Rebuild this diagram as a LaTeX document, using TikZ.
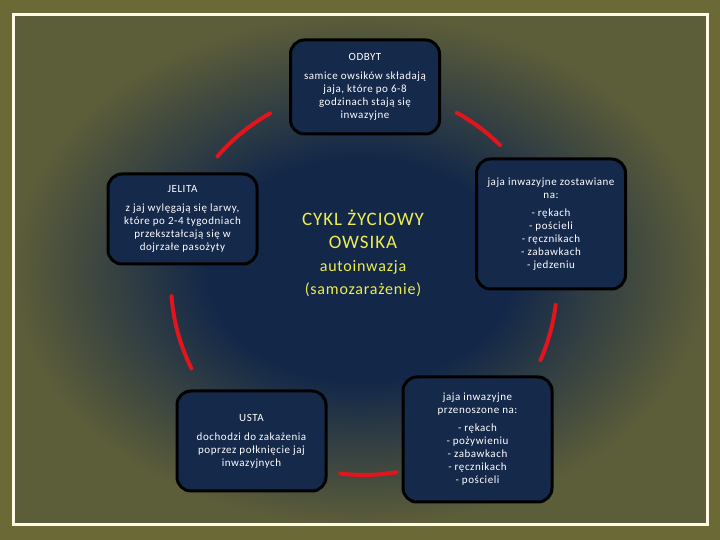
\documentclass[tikz,border=0pt]{standalone}
\usepackage{fontspec}
\setmainfont{Carlito}[LetterSpace=5]
\usepackage{tikz}
\usetikzlibrary{positioning}
\definecolor{Olive}{HTML}{6B6935}
\definecolor{OliveEdge}{HTML}{5C5D39}
\definecolor{Navy}{HTML}{132849}
\definecolor{BoxFill}{HTML}{15294B}
\definecolor{Frame}{HTML}{FFF9E6}
\definecolor{Cycle}{HTML}{E3141B}
\definecolor{Title}{HTML}{EDED4F}
\pgfdeclareradialshading{bgshade}{\pgfpoint{0bp}{0bp}}{color(0bp)=(Navy); color(11bp)=(Navy); color(25bp)=(OliveEdge); color(50bp)=(OliveEdge)}

\begin{document}
\begin{tikzpicture}[x=1pt,y=1pt,font=\fontsize{11}{13}\selectfont]
  \tikzstyle{stage}=[draw=black,line width=3pt,rounded corners=14pt,fill=BoxFill,text=white,align=center,minimum width=149pt,inner sep=4pt]
  \tikzstyle{cyclearc}=[Cycle,line width=4pt,line cap=round]
  \fill[Olive] (0,0) rectangle (720,540);
  \shade[shading=bgshade] (13,15) rectangle (707,525);
  \draw[Frame,line width=3pt] (13,15) rectangle (707,525);
  \node[stage,minimum height=94pt] (odbyt) at (365,453) {ODBYT\\[6pt]samice owsików składają\\jaja, które po 6-8\\godzinach stają się\\inwazyjne};
  \node[stage,minimum height=90pt] (jelita) at (182.5,321) {JELITA\\[6pt]z jaj wylęgają się larwy,\\które po 2-4 tygodniach\\przekształcają się w\\dojrzałe pasożyty};
  \node[stage,minimum height=130pt] (zost) at (551,316) {jaja inwazyjne zostawiane\\na:\\[5pt]- rękach\\- pościeli\\- ręcznikach\\- zabawkach\\- jedzeniu};
  \node[stage,minimum height=100pt] (usta) at (251.5,99) {USTA\\[6pt]dochodzi do zakażenia\\poprzez połknięcie jaj\\inwazyjnych};
  \node[stage,minimum height=125pt] (przen) at (477.5,100.5) {jaja inwazyjne\\przenoszone na:\\[5pt]- rękach\\- pożywieniu\\- zabawkach\\- ręcznikach\\- pościeli};
  \node[text=Title,align=center,font=\fontsize{16}{23}\selectfont] (cykl) at (363,287) {{\fontsize{19}{23}\selectfont CYKL ŻYCIOWY}\\{\fontsize{19}{23}\selectfont OWSIKA}\\autoinwazja\\(samozarażenie)};
  \coordinate (hub) at (364,258);
  \draw[cyclearc] ([shift={(139.4:193)}]hub) arc[start angle=139.4,end angle=119.1,radius=193];
  \draw[cyclearc] ([shift={(61.3:193)}]hub) arc[start angle=61.3,end angle=45.2,radius=193];
  \draw[cyclearc] ([shift={(-6.8:193)}]hub) arc[start angle=-6.8,end angle=-23.9,radius=193];
  \draw[cyclearc] ([shift={(-80.4:193)}]hub) arc[start angle=-80.4,end angle=-97.1,radius=193];
  \draw[cyclearc] ([shift={(184.2:193)}]hub) arc[start angle=184.2,end angle=206.6,radius=193];
\end{tikzpicture}
\end{document}
